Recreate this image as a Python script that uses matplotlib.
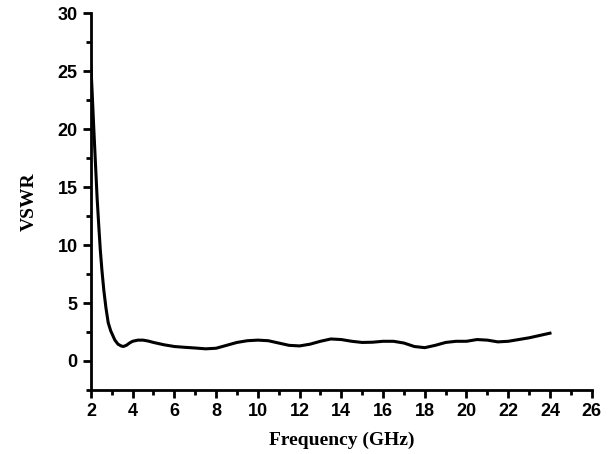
import matplotlib
matplotlib.use("Agg")
import matplotlib.pyplot as plt
from matplotlib.ticker import MultipleLocator

# values
freq = [2.0, 2.07, 2.14, 2.22, 2.3, 2.38, 2.45, 2.53, 2.62, 2.72, 2.83, 2.95, 3.05,
        3.15, 3.3, 3.45, 3.55, 3.7, 3.85, 4.0, 4.25, 4.5, 4.75, 5.0, 5.5, 6.0,
        6.5, 7.0, 7.5, 8.0, 8.5, 9.0, 9.5, 10.0, 10.5, 11.0, 11.5, 12.0, 12.5,
        13.0, 13.5, 14.0, 14.5, 15.0, 15.5, 16.0, 16.5, 17.0, 17.5, 18.0, 18.5,
        19.0, 19.5, 20.0, 20.5, 21.0, 21.5, 22.0, 22.5, 23.0, 23.5, 24.0]
vswr = [25.5, 22.8, 20.0, 17.0, 14.0, 11.6, 9.6, 7.8, 6.1, 4.6, 3.3, 2.6, 2.2,
        1.8, 1.45, 1.3, 1.25, 1.35, 1.55, 1.7, 1.8, 1.8, 1.72, 1.6, 1.4, 1.25,
        1.18, 1.12, 1.05, 1.1, 1.35, 1.6, 1.75, 1.8, 1.75, 1.55, 1.35, 1.3, 1.45,
        1.7, 1.9, 1.85, 1.7, 1.6, 1.62, 1.7, 1.7, 1.55, 1.25, 1.15, 1.35,
        1.6, 1.7, 1.7, 1.85, 1.8, 1.65, 1.7, 1.85, 2.0, 2.2, 2.4]

fig = plt.figure(figsize=(6.1, 4.54), dpi=100)
ax = fig.add_axes([0.149, 0.141, 0.821, 0.830])

ax.plot(freq, vswr, color="black", linewidth=2.2)

ax.set_xlim(2, 26)
ax.set_ylim(-2.5, 30)
ax.xaxis.set_major_locator(MultipleLocator(2))
ax.xaxis.set_minor_locator(MultipleLocator(1))
ax.yaxis.set_major_locator(MultipleLocator(5))
ax.yaxis.set_minor_locator(MultipleLocator(2.5))

for s in ["top", "right"]:
    ax.spines[s].set_visible(False)
for s in ["left", "bottom"]:
    ax.spines[s].set_linewidth(2)

ax.tick_params(which="major", direction="out", length=6, width=2)
ax.tick_params(which="minor", direction="out", length=3.5, width=2)
for lab in ax.get_xticklabels() + ax.get_yticklabels():
    lab.set_fontfamily("Liberation Sans")
    lab.set_fontweight("bold")
    lab.set_fontsize(13)

ax.set_xlabel("Frequency (GHz)", fontfamily="Liberation Serif", fontweight="bold",
              fontsize=14, labelpad=8)
ax.set_ylabel("VSWR", fontfamily="Liberation Serif", fontweight="bold",
              fontsize=14, labelpad=14)

plt.savefig("out.png")
